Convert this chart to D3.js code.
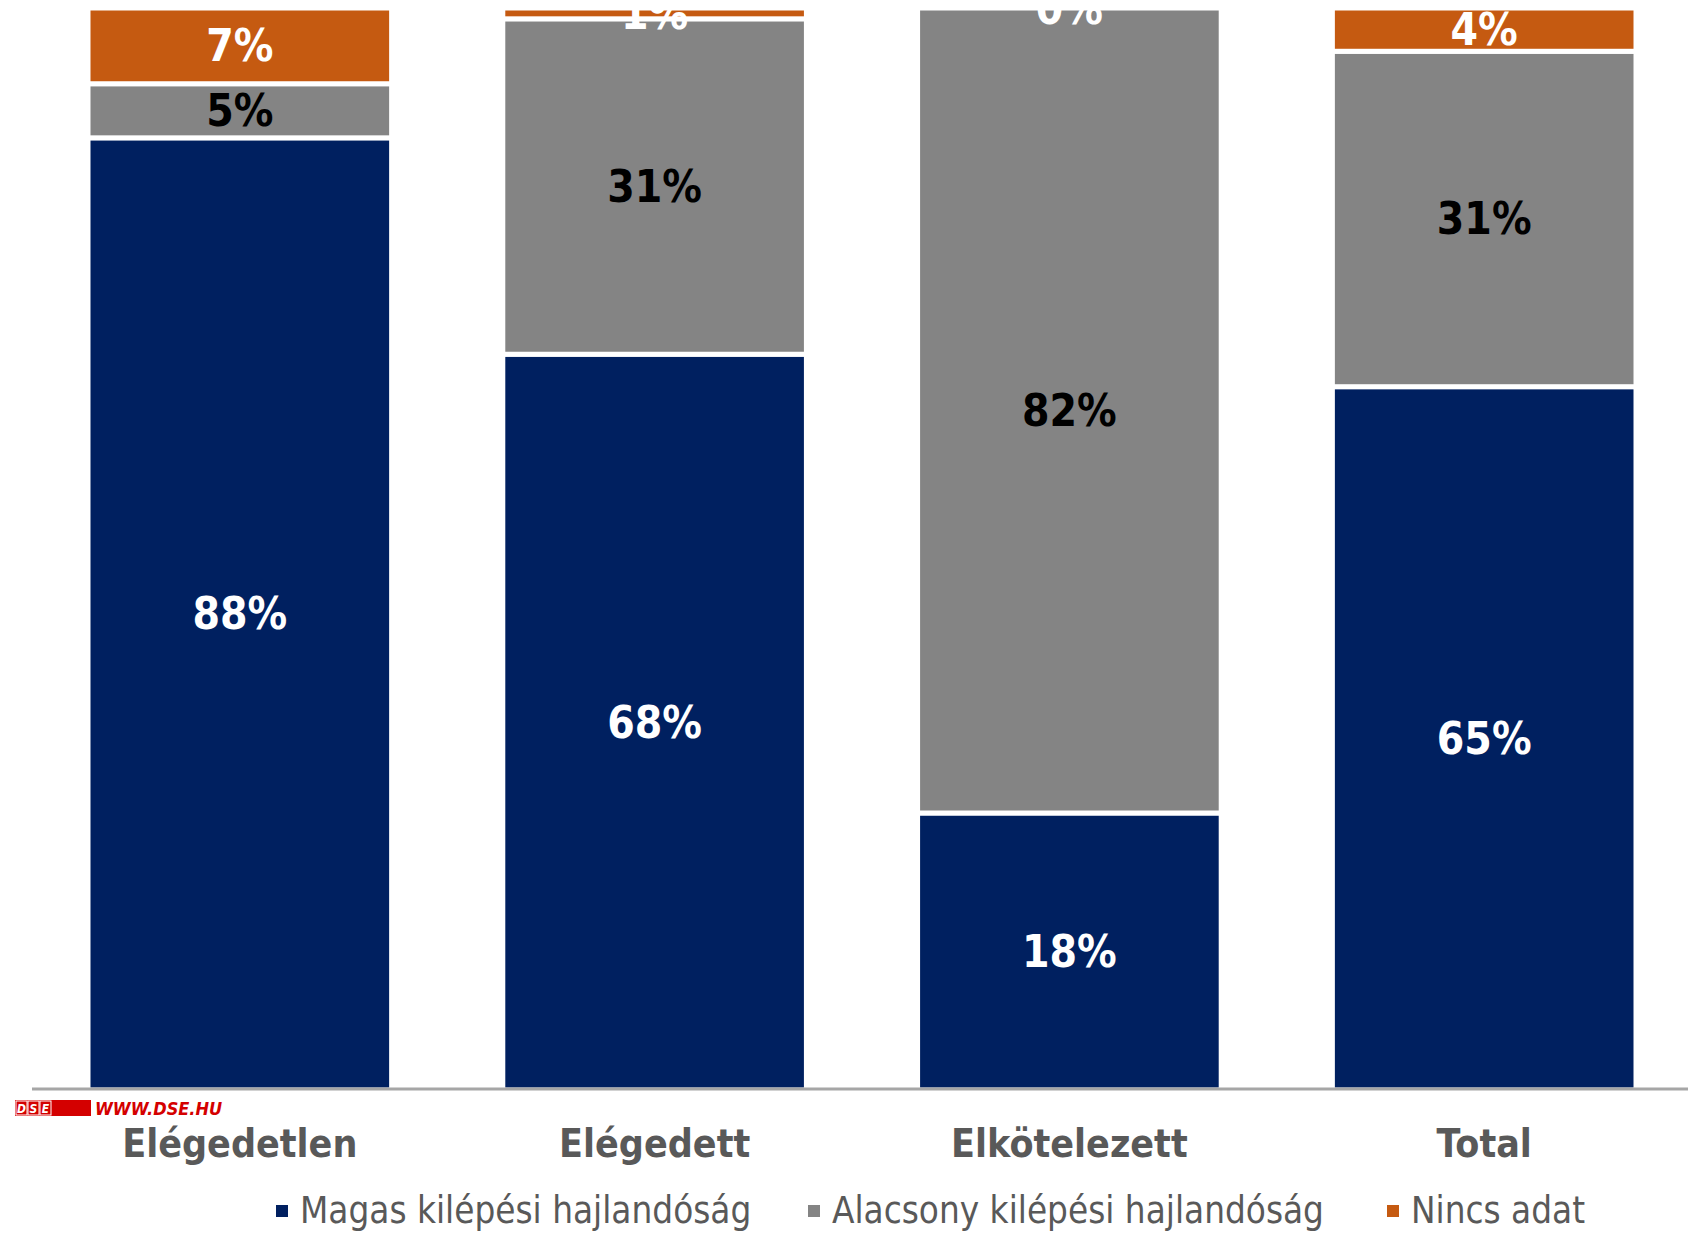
<!DOCTYPE html>
<html>
<head>
<meta charset="utf-8">
<script src="https://cdn.jsdelivr.net/npm/d3@7.9.0/dist/d3.min.js"></script>
<style>
    body { margin: 0; background: #fff; }
    svg { display: block; }
    text { font-family: "DejaVu Sans Condensed", "DejaVu Sans", sans-serif; font-stretch: condensed; }
</style>
</head>
<body>
<svg id="chart" width="1699" height="1233"></svg>
<script>
// categories and series (bar heights as drawn, label texts as printed)
const categories = ['Elégedetlen', 'Elégedett', 'Elkötelezett', 'Total'];
const seriesNames = ['Magas kilépési hajlandóság', 'Alacsony kilépési hajlandóság', 'Nincs adat'];
const magas = [88, 68, 25.6, 65];
const alacsony = [5, 31, 74.4, 31];
const nincs = [7, 1, 0, 4];
const magasLabels = ['88%', '68%', '18%', '65%'];
const alacsonyLabels = ['5%', '31%', '82%', '31%'];
const nincsLabels = ['7%', '1%', '0%', '4%'];

const colors = ['#002060', '#848484', '#C55A11'];
const labelColors = ['#fff', '#000', '#fff'];

const svg = d3.select('#chart');

const x = d3.scaleBand()
    .domain(categories)
    .range([32, 1692])
    .paddingInner(0.268)
    .paddingOuter(0.135);

const y = d3.scaleLinear().domain([0, 100]).range([1090, 8]);

let rows = categories.map((c, i) => ({
    cat: c,
    magas: magas[i], alacsony: alacsony[i], nincs: nincs[i]
}));
const keys = ['magas', 'alacsony', 'nincs'];
const labelSets = [magasLabels, alacsonyLabels, nincsLabels];
const stacked = d3.stack().keys(keys)(rows);

// bars
stacked.forEach((layer, si) => {
    svg.append('g')
        .selectAll('rect')
        .data(layer)
        .join('rect')
        .attr('x', d => x(d.data.cat))
        .attr('width', x.bandwidth())
        .attr('y', d => y(d[1]))
        .attr('height', d => y(d[0]) - y(d[1]))
        .attr('fill', colors[si])
        .attr('stroke', '#fff')
        .attr('stroke-width', 5);
});

// axis line
svg.append('line')
    .attr('x1', 32).attr('x2', 1688)
    .attr('y1', 1089).attr('y2', 1089)
    .attr('stroke', '#a6a6a6')
    .attr('stroke-width', 3);

// data labels
stacked.forEach((layer, si) => {
    svg.append('g')
        .selectAll('text')
        .data(layer)
        .join('text')
        .attr('x', d => x(d.data.cat) + x.bandwidth() / 2)
        .attr('y', d => (y(d[0]) + y(d[1])) / 2)
        .attr('text-anchor', 'middle')
        .attr('dominant-baseline', 'central')
        .attr('font-size', 44)
        .attr('font-weight', 'bold')
        .attr('fill', labelColors[si])
        .text((d, i) => labelSets[si][i]);
});

// category labels
svg.append('g')
    .selectAll('text')
    .data(categories)
    .join('text')
    .attr('x', d => x(d) + x.bandwidth() / 2)
    .attr('y', 1157)
    .attr('text-anchor', 'middle')
    .attr('font-size', 39)
    .attr('font-weight', 'bold')
    .attr('fill', '#595959')
    .text(d => d);

// legend
const legendX = [276, 808, 1387];
const legend = svg.append('g')
    .selectAll('g')
    .data(seriesNames)
    .join('g')
    .attr('transform', (d, i) => `translate(${legendX[i]},1223)`);

legend.append('rect')
    .attr('x', 0).attr('y', -18)
    .attr('width', 12).attr('height', 12)
    .attr('fill', (d, i) => colors[i]);

legend.append('text')
    .attr('x', 24)
    .attr('font-size', 36.5)
    .attr('fill', '#595959')
    .text(d => d);

// DSE watermark
const logo = svg.append('g').attr('transform', 'translate(15,1100)');
logo.append('rect').attr('width', 76).attr('height', 16).attr('fill', '#d40000');
['D', 'S', 'E'].forEach((ch, i) => {
    logo.append('rect')
        .attr('x', 1 + i * 12).attr('y', 1)
        .attr('width', 11).attr('height', 14)
        .attr('fill', 'none').attr('stroke', '#fff').attr('stroke-width', 1);
    logo.append('text')
        .attr('x', 6.5 + i * 12).attr('y', 13)
        .attr('text-anchor', 'middle')
        .attr('font-size', 12).attr('font-weight', 'bold').attr('font-style', 'italic')
        .attr('fill', '#fff')
        .text(ch);
});
logo.append('text')
    .attr('x', 80).attr('y', 15)
    .attr('font-size', 18).attr('font-weight', 'bold').attr('font-style', 'italic')
    .attr('fill', '#d40000')
    .text('WWW.DSE.HU');
</script>
</body>
</html>
